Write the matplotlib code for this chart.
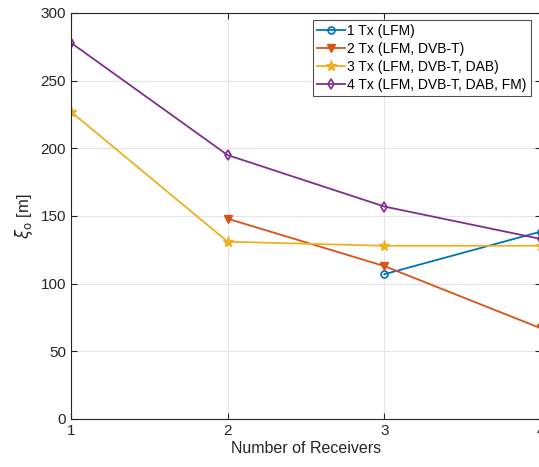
import matplotlib
matplotlib.use("Agg")
import matplotlib.pyplot as plt

plt.rcParams['font.family'] = ['Liberation Sans', 'DejaVu Sans']
plt.rcParams['mathtext.fontset'] = 'dejavusans'

receivers_1 = [3, 4]
tx1 = [107, 138.5]
receivers_2 = [2, 3, 4]
tx2 = [148, 113, 67]
receivers_3 = [1, 2, 3, 4]
tx3 = [227, 131, 128, 128]
receivers_4 = [1, 2, 3, 4]
tx4 = [278, 195, 157, 133]

labels = ['1 Tx (LFM)', '2 Tx (LFM, DVB-T)', '3 Tx (LFM, DVB-T, DAB)', '4 Tx (LFM, DVB-T, DAB, FM)']
colors = ['#0072BD', '#D95319', '#EDB120', '#7E2F8E']
xticks = [1, 2, 3, 4]
yticks = [0, 50, 100, 150, 200, 250, 300]

fig = plt.figure(figsize=(5.39, 4.67), dpi=100)
W, H = 539, 467
ax = fig.add_axes([71 / W, 1 - 419 / H, (541 - 71) / W, (419 - 13) / H])

ax.plot(receivers_1, tx1, color=colors[0], marker='o', mfc='none', ms=5, mew=1.2, lw=1.3, label=labels[0])
ax.plot(receivers_2, tx2, color=colors[1], marker='v', ms=6, lw=1.3, label=labels[1])
ax.plot(receivers_3, tx3, color=colors[2], marker='*', ms=8, lw=1.3, label=labels[2])
ax.plot(receivers_4, tx4, color=colors[3], marker='d', mfc='none', ms=5.5, mew=1.2, lw=1.3, label=labels[3])

ax.set_xlim(1, 4)
ax.set_ylim(0, 300)
ax.set_xticks(xticks)
ax.set_yticks(yticks)
ax.grid(True, color='#e6e6e6', lw=0.8)
ax.set_axisbelow(True)
ax.tick_params(direction='in', top=True, right=True, labelsize=11, colors='#262626', length=4)
for s in ax.spines.values():
    s.set_color('#262626')
    s.set_linewidth(0.8)

ax.set_xlabel('Number of Receivers', fontsize=11.5, color='#262626', labelpad=2)
ax.set_ylabel(r'$\xi_\mathrm{o}$ [m]', fontsize=12, color='#262626', labelpad=4)

leg = ax.legend(loc='upper right', bbox_to_anchor=((531 - 71) / (541 - 71), 1 - (20 - 13) / (419 - 13)),
                fontsize=10, frameon=True, fancybox=False, edgecolor='#262626',
                handlelength=2.0, handletextpad=0.2, borderpad=0.3, labelspacing=0.28, borderaxespad=0)
leg.get_frame().set_linewidth(0.8)

fig.savefig('out.png', dpi=100)
